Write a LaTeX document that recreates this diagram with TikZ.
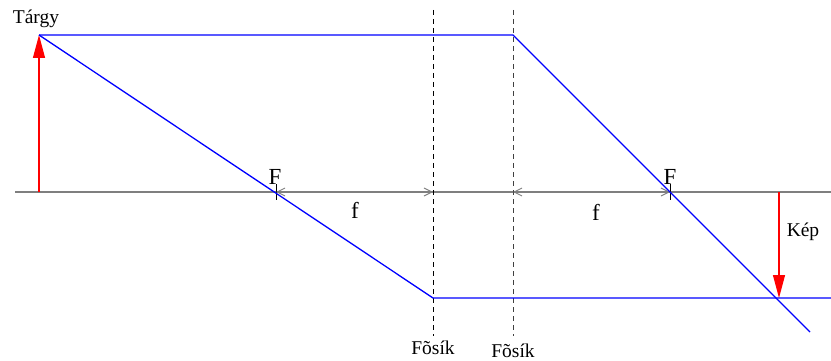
\documentclass[tikz,border=0pt]{standalone}
\usepackage{fontspec}
\setmainfont{Liberation Serif}
\usetikzlibrary{arrows.meta, calc}
\definecolor{axc}{HTML}{7F7F7F}
\definecolor{redc}{HTML}{FF0000}

\begin{document}
\begin{tikzpicture}[x=1pt, y=-1pt, line width=1.2pt,
    ray/.style={blue, line width=1.3pt},
    arw/.style={draw=redc, fill=redc, line width=1.15pt, -{Triangle[length=23pt, width=12pt]}},
    dim/.style={axc, line width=0.9pt,
      {Straight Barb[length=8pt, width=8pt]}-{Straight Barb[length=8pt, width=8pt]}},
    plane/.style={line width=0.9pt, dash pattern=on 5pt off 4pt},
    lbl/.style={inner sep=0pt, anchor=base, font=\fontsize{19.5}{22}\selectfont},
    big/.style={inner sep=0pt, anchor=base, font=\fontsize{23}{26}\selectfont}]
  \useasboundingbox (0,0) rectangle (831,361);
  % optical axis
  \coordinate (axL) at (15,192);
  \coordinate (axR) at (831,192);
  \draw[axc, line width=1.5pt] (axL) -- (axR);
  % principal planes
  \coordinate (Htop) at (433,10);  \coordinate (Hbot) at (433,336);
  \coordinate (Ktop) at (513,10);  \coordinate (Kbot) at (513,336);
  \draw[plane] (Htop) -- (Hbot);
  \draw[plane, black!75] (Ktop) -- (Kbot);
  \node[lbl] (fsH) at (433,354) {Fõsík};
  \node[lbl] (fsK) at (513,357) {Fõsík};
  % focal points
  \coordinate (F1) at (276,192);
  \coordinate (F2) at (670,192);
  \coordinate (H) at (433,192);
  \coordinate (K) at (513,192);
  \foreach \p in {F1,F2}
    \draw[line width=0.8pt] ($(\p)+(0,-8)$) -- ($(\p)+(0,8)$);
  \node[big] (lF1) at (275,184) {F};
  \node[big] (lF2) at (670,184) {F};
  \draw[dim] (F1) -- (H);
  \draw[dim] (K) -- (F2);
  \node[big] (lf1) at (355,218) {f};
  \node[big] (lf2) at (596,220) {f};
  % object and image
  \coordinate (T0) at (39,192);
  \coordinate (T1) at (39,35);
  \coordinate (K0) at (779,192);
  \coordinate (K1) at (779,298);
  \draw[arw] (T0) -- (T1);
  \draw[arw] (K0) -- (K1);
  \node[lbl] (targy) at (36,24) {Tárgy};
  \node[lbl] (kep) at (803,236) {Kép};
  % rays
  \coordinate (P1) at (513,35);
  \coordinate (P2) at (433,298);
  \coordinate (E1) at (810,332);
  \coordinate (E2) at (831,298);
  \draw[ray] (T1) -- (P1) -- (E1);
  \draw[ray] (T1) -- (P2) -- (E2);
\end{tikzpicture}
\end{document}
